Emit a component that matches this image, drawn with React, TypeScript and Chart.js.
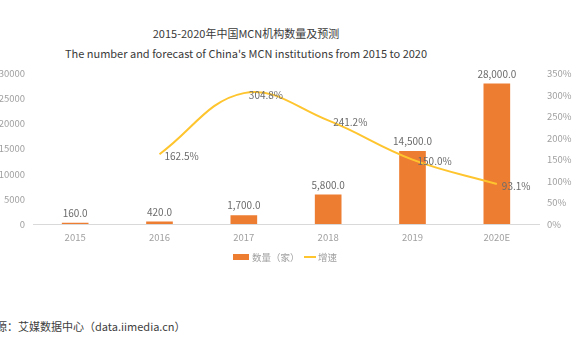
import React, { useEffect, useRef } from "react";
import { Chart, registerables } from "chart.js";

Chart.register(...registerables);

const categories = ["2015", "2016", "2017", "2018", "2019", "2020E"];
const counts = [160, 420, 1700, 5800, 14500, 28000];
const growth: (number | null)[] = [null, 162.5, 304.8, 241.2, 150.0, 93.1];
const leftTicks = [0, 5000, 10000, 15000, 20000, 25000, 30000];
const rightTicks = [0, 50, 100, 150, 200, 250, 300, 350];

const FONT = "'Noto Sans CJK SC', 'Noto Sans', sans-serif";
const BAR_COLOR = "#ED7D31";
const LINE_COLOR = "#FFC52F";
const LABEL_COLOR = "#6b6b6b";
const TICK_COLOR = "#a0a0a0";

const labelPlugin = {
  id: "valueLabels",
  afterDatasetsDraw(chart: any) {
    const ctx = chart.ctx;
    ctx.save();
    ctx.font = `10px ${FONT}`;
    ctx.fillStyle = LABEL_COLOR;
    const barMeta = chart.getDatasetMeta(0);
    barMeta.data.forEach((el: any, i: number) => {
      const v = counts[i];
      const txt = v.toLocaleString("en-US", { minimumFractionDigits: 1, maximumFractionDigits: 1 });
      ctx.textAlign = "center";
      ctx.textBaseline = "middle";
      ctx.fillText(txt, el.x, el.y - 10);
    });
    const lineMeta = chart.getDatasetMeta(1);
    lineMeta.data.forEach((el: any, i: number) => {
      const v = growth[i];
      if (v == null) return;
      ctx.textAlign = "left";
      ctx.textBaseline = "middle";
      ctx.fillText(v.toFixed(1) + "%", el.x + 5, el.y + 2);
    });
    ctx.restore();
  },
};

export default function App() {
  const ref = useRef<HTMLCanvasElement | null>(null);
  useEffect(() => {
    if (!ref.current) return;
    const chart = new Chart(ref.current, {
      type: "bar",
      data: {
        labels: categories,
        datasets: [
          {
            type: "bar",
            label: "数量（家）",
            data: counts,
            backgroundColor: BAR_COLOR,
            barThickness: 26,
            yAxisID: "y",
            order: 2,
          } as any,
          {
            type: "line",
            label: "增速",
            data: growth,
            borderColor: LINE_COLOR,
            borderWidth: 2,
            pointRadius: 0,
            tension: 0.4,
            yAxisID: "y1",
            order: 1,
            spanGaps: false,
          } as any,
        ],
      },
      options: {
        animation: false,
        responsive: false,
        maintainAspectRatio: false,
        layout: { padding: { top: 11, left: 0, right: 0, bottom: 0 } },
        plugins: { legend: { display: false }, title: { display: false }, tooltip: { enabled: false } },
        scales: {
          x: {
            grid: { display: false, drawTicks: false },
            border: { display: true, color: "#d9d9d9", width: 1 },
            ticks: { color: TICK_COLOR, font: { family: FONT, size: 9.5 }, padding: 8 },
            afterFit: (s: any) => {
              s.height = 26;
            },
          },
          y: {
            position: "left",
            min: 0,
            max: 30000,
            afterBuildTicks: (s: any) => {
              s.ticks = leftTicks.map((v) => ({ value: v }));
            },
            grid: { display: false, drawTicks: false },
            border: { display: false },
            ticks: { color: TICK_COLOR, font: { family: FONT, size: 9.5 }, padding: 8, callback: (v: any) => String(v) },
            afterFit: (s: any) => {
              s.width = 63;
            },
          },
          y1: {
            position: "right",
            min: 0,
            max: 350,
            afterBuildTicks: (s: any) => {
              s.ticks = rightTicks.map((v) => ({ value: v }));
            },
            grid: { display: false, drawTicks: false },
            border: { display: false },
            ticks: { color: TICK_COLOR, font: { family: FONT, size: 9.5 }, padding: 8, callback: (v: any) => v + "%" },
            afterFit: (s: any) => {
              s.width = 37;
            },
          },
        },
      } as any,
      plugins: [labelPlugin],
    });
    return () => chart.destroy();
  }, []);

  return (
    <div
      style={{
        position: "absolute",
        left: 0,
        top: 0,
        width: 576,
        height: 356,
        overflow: "hidden",
        background: "#fff",
        fontFamily: FONT,
      }}
    >
      <div style={{ position: "absolute", left: 0, width: 492, top: 25, textAlign: "center", fontSize: 11, color: "#3a3a3a", lineHeight: "16px" }}>
        2015-2020年中国MCN机构数量及预测
      </div>
      <div style={{ position: "absolute", left: 0, width: 492, top: 45, textAlign: "center", fontSize: 11, color: "#3a3a3a", lineHeight: "16px" }}>
        The number and forecast of China's MCN institutions from 2015 to 2020
      </div>
      <canvas ref={ref} width={606} height={190} style={{ position: "absolute", left: -30, top: 60, width: 606, height: 190 }} />
      <div style={{ position: "absolute", left: 233, top: 254, width: 16, height: 6, background: BAR_COLOR }} />
      <div style={{ position: "absolute", left: 252, top: 249, fontSize: 9.5, color: TICK_COLOR, lineHeight: "16px", whiteSpace: "nowrap" }}>
        数量（家）
      </div>
      <div style={{ position: "absolute", left: 304, top: 256, width: 12, height: 2, background: LINE_COLOR }} />
      <div style={{ position: "absolute", left: 318, top: 249, fontSize: 9.5, color: TICK_COLOR, lineHeight: "16px", whiteSpace: "nowrap" }}>
        增速
      </div>
      <div style={{ position: "absolute", left: -37, top: 318, fontSize: 11, color: "#404040", lineHeight: "16px", whiteSpace: "nowrap" }}>
        数据来源：艾媒数据中心（data.iimedia.cn）
      </div>
    </div>
  );
}
